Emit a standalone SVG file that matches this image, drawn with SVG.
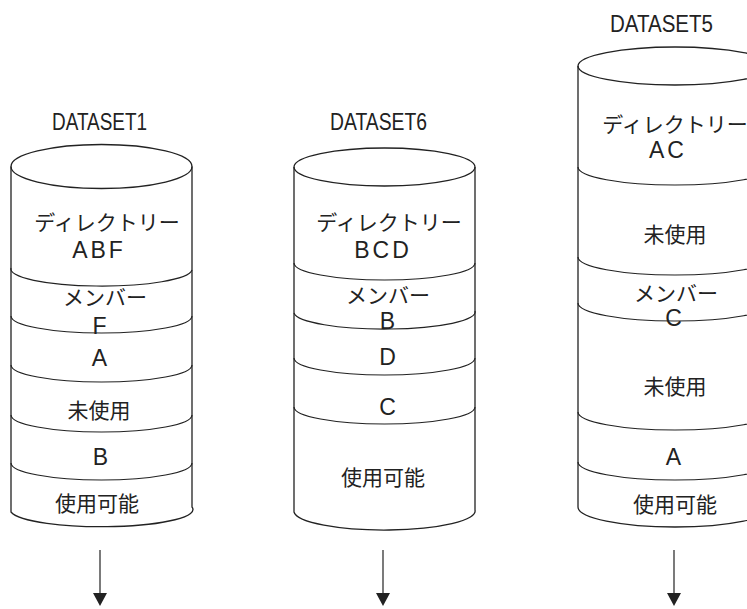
<svg xmlns="http://www.w3.org/2000/svg" width="747" height="609" viewBox="0 0 747 609">
<style>
.cyl{fill:none;stroke:#222;stroke-width:1.3}
.div{fill:none;stroke:#222;stroke-width:1.2}
.ds{font-family:"Liberation Sans",Arial,sans-serif;font-size:23px;fill:#222;text-anchor:middle}
.jp{font-family:"Noto Sans CJK JP",sans-serif;font-size:21px;fill:#222;text-anchor:middle}
.lt{font-family:"Liberation Sans",Arial,sans-serif;font-size:23px;fill:#222;text-anchor:middle;letter-spacing:3px}
.arr{stroke:#333;stroke-width:1.3}
</style>
<rect width="747" height="609" fill="#fff"/>

<g id="dataset1">
  <text class="ds" x="99.5" y="130" textLength="95" lengthAdjust="spacingAndGlyphs">DATASET1</text>
  <ellipse class="cyl" cx="101.5" cy="166.5" rx="90.5" ry="22"/>
  <path class="cyl" d="M11 166.5 V512 A90.5 17 0 0 0 192 507 V166.5"/>
  <path class="div" d="M11 268 A90.5 17 0 0 0 192 270"/>
  <path class="div" d="M11 316 A90.5 17 0 0 0 192 316"/>
  <path class="div" d="M11 365 A90.5 17 0 0 0 192 365"/>
  <path class="div" d="M11 415 A90.5 17 0 0 0 192 415"/>
  <path class="div" d="M11 463 A90.5 17 0 0 0 192 463"/>
  <text class="jp" x="107" y="230">ディレクトリー</text>
  <text class="lt" x="99" y="258">ABF</text>
  <text class="jp" x="105" y="305">メンバー</text>
  <text class="lt" x="101" y="334">F</text>
  <text class="lt" x="101" y="366">A</text>
  <text class="jp" x="99" y="418">未使用</text>
  <text class="lt" x="102" y="465">B</text>
  <text class="jp" x="97" y="511">使用可能</text>
</g>

<g id="dataset6">
  <text class="ds" x="378.5" y="130" textLength="97" lengthAdjust="spacingAndGlyphs">DATASET6</text>
  <ellipse class="cyl" cx="384.5" cy="167" rx="90.5" ry="19"/>
  <path class="cyl" d="M294 167 V512 A90.5 19 0 0 0 475 510 V167"/>
  <path class="div" d="M294 263 A90.5 17 0 0 0 475 263"/>
  <path class="div" d="M294 313 A90.5 17 0 0 0 475 311"/>
  <path class="div" d="M294 358 A90.5 17 0 0 0 475 358"/>
  <path class="div" d="M294 407 A90.5 17 0 0 0 475 407"/>
  <text class="jp" x="389" y="230">ディレクトリー</text>
  <text class="lt" x="383" y="258">BCD</text>
  <text class="jp" x="388" y="303">メンバー</text>
  <text class="lt" x="389" y="329">B</text>
  <text class="lt" x="389" y="365">D</text>
  <text class="lt" x="389" y="415">C</text>
  <text class="jp" x="383" y="485">使用可能</text>
</g>

<g id="dataset5">
  <text class="ds" x="661.5" y="32" textLength="103" lengthAdjust="spacingAndGlyphs">DATASET5</text>
  <ellipse class="cyl" cx="675" cy="66" rx="97" ry="19"/>
  <path class="cyl" d="M578 66 V507 A97 20 0 0 0 772 507 V66"/>
  <path class="div" d="M578 167 A97 18 0 0 0 772 167"/>
  <path class="div" d="M578 257 A97 18 0 0 0 772 257"/>
  <path class="div" d="M578 303 A97 18 0 0 0 772 303"/>
  <path class="div" d="M578 412 A97 18 0 0 0 772 412"/>
  <path class="div" d="M578 462 A97 18 0 0 0 772 462"/>
  <text class="jp" x="675" y="132">ディレクトリー</text>
  <text class="lt" x="668" y="158">AC</text>
  <text class="jp" x="675" y="242">未使用</text>
  <text class="jp" x="676" y="301">メンバー</text>
  <text class="lt" x="675" y="326">C</text>
  <text class="jp" x="675" y="394">未使用</text>
  <text class="lt" x="675" y="465">A</text>
  <text class="jp" x="675" y="512">使用可能</text>
</g>

<g id="connectors">
  <line class="arr" x1="100" y1="550" x2="100" y2="594"/>
  <polygon points="93,593 107,593 100,606" fill="#222"/>
  <line class="arr" x1="383" y1="550" x2="383" y2="594"/>
  <polygon points="376,593 390,593 383,606" fill="#222"/>
  <line class="arr" x1="674" y1="550" x2="674" y2="594"/>
  <polygon points="667,593 681,593 674,606" fill="#222"/>
</g>
</svg>
